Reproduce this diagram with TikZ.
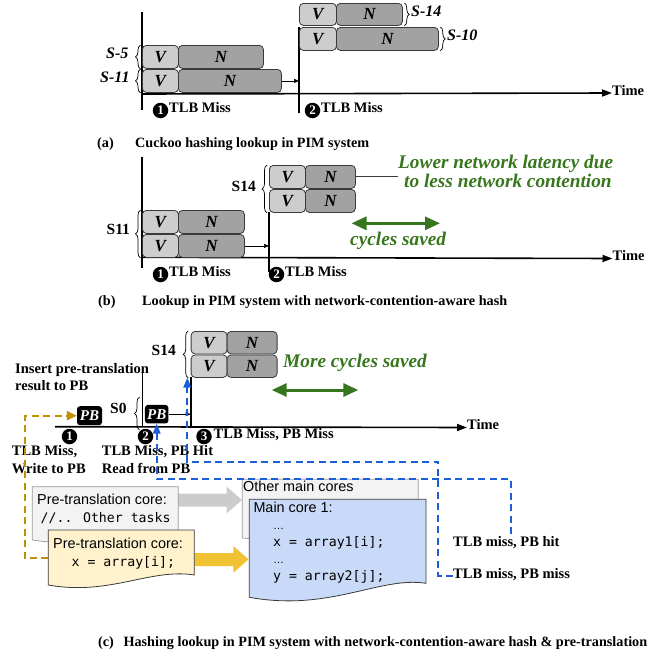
\documentclass[tikz,border=0pt]{standalone}
\usepackage{fontspec}
\setmainfont{Liberation Serif}
\newfontfamily\sansf{Liberation Sans}
\newfontfamily\monof{DejaVu Sans Mono}
\usetikzlibrary{arrows.meta,decorations.pathreplacing}
\definecolor{vfill}{HTML}{CDCDCD}
\definecolor{nfill}{HTML}{A2A2A2}
\definecolor{boxedge}{HTML}{3A3A3A}
\definecolor{grn}{HTML}{38761D}
\definecolor{bluedash}{HTML}{1A5FD6}
\definecolor{golddash}{HTML}{BF9000}
\definecolor{graybox}{HTML}{F3F3F3}
\definecolor{grayedge}{HTML}{999999}
\definecolor{grayarrow}{HTML}{CCCCCC}
\definecolor{yelbox}{HTML}{FFF2CC}
\definecolor{yelarrow}{HTML}{F1C232}
\definecolor{bluebox}{HTML}{C9DAF8}
\tikzset{
  cell/.style={draw=boxedge, line width=0.8pt, rounded corners=4pt, anchor=north west, inner sep=0pt,
    font=\fontsize{17}{17}\selectfont\bfseries\itshape},
  vcell/.style={cell, fill=vfill},
  ncell/.style={cell, fill=nfill},
  lbl/.style={font=\fontsize{14.5}{16}\selectfont\bfseries, inner sep=0pt, text height=0.68em, text depth=0.2em, anchor=west},
  captxt/.style={font=\fontsize{14.2}{16}\selectfont\bfseries, inner sep=0pt, text height=0.68em, text depth=0.2em, anchor=west},
  slbl/.style={font=\fontsize{16}{16}\selectfont\bfseries\itshape, inner sep=0pt, text height=0.68em, text depth=0.2em, anchor=west},
  slblr/.style={font=\fontsize{15.5}{16}\selectfont\bfseries, inner sep=0pt, text height=0.68em, text depth=0.2em, anchor=west},
  numc/.style={circle, fill=black, text=white, inner sep=0pt, minimum size=15.5pt,
    font=\fontsize{13}{13}\selectfont\bfseries},
  gtxt/.style={text=grn, font=\fontsize{19.3}{21}\selectfont\bfseries\itshape, inner sep=0pt, text height=0.68em, text depth=0.2em, anchor=west},
  stxt/.style={font=\fontsize{14.4}{16}\selectfont\sansf, inner sep=0pt, text height=0.7em, text depth=0.2em, anchor=west},
  mtxt/.style={font=\fontsize{13.2}{16}\selectfont\monof, inner sep=0pt, text height=0.7em, text depth=0.2em, anchor=west},
  pbbox/.style={fill=black, text=white, rounded corners=3pt, inner sep=0pt,
    font=\fontsize{15}{15}\selectfont\bfseries\itshape},
  brc/.style={decorate, decoration={brace, amplitude=5pt}, line width=0.7pt},
  taxis/.style={line width=1.6pt, -{Triangle[length=10pt,width=7pt]}},
  tline/.style={line width=1.6pt},
  smallarr/.style={line width=0.7pt, -{Triangle[length=5pt,width=4pt]}},
  garr/.style={draw=grn, line width=3pt, {Triangle[length=15pt,width=13pt]}-{Triangle[length=15pt,width=13pt]}},
  bdash/.style={draw=bluedash, line width=2pt, dash pattern=on 7pt off 4.5pt, -{Triangle[length=10pt,width=7.5pt]}},
  gdash/.style={draw=golddash, line width=2pt, dash pattern=on 7pt off 4.5pt, -{Triangle[length=10pt,width=9pt]}},
}
\begin{document}
\begin{tikzpicture}[x=1pt,y=-1pt]
\useasboundingbox (0,0) rectangle (667,656);

% ================= (a) =================
\coordinate (aL1t) at (142,12); \coordinate (aL1b) at (142,110);
\coordinate (aL2t) at (299,27); \coordinate (aL2b) at (299,113);
\draw[tline] (aL1t) -- (aL1b);
\draw[tline] (aL2t) -- (aL2b);
\coordinate (aT0) at (142,94);
\node[lbl] (aTime) at (612,93) {Time};
\draw[taxis] (aT0) -- (aTime.west);

\node[vcell,minimum width=36pt,minimum height=23pt] (a5v) at (142,45) {V};
\node[ncell,minimum width=85pt,minimum height=23pt] (a5n) at (178,45) {N};
\node[vcell,minimum width=36pt,minimum height=23pt] (a11v) at (142,69) {V};
\node[ncell,minimum width=103pt,minimum height=23pt] (a11n) at (178,69) {N};
\node[vcell,minimum width=37pt,minimum height=22pt] (a14v) at (299,3) {V};
\node[ncell,minimum width=66pt,minimum height=22pt] (a14n) at (336,3) {N};
\node[vcell,minimum width=37pt,minimum height=23pt] (a10v) at (299,27) {V};
\node[ncell,minimum width=102pt,minimum height=23pt] (a10n) at (336,27) {N};

\draw[smallarr] (a11n.east) -- (a11n.east -| aL2t);

\draw[brc] ([xshift=-1.5pt]a5v.south west) -- ([xshift=-1.5pt]a5v.north west);
\draw[brc] ([xshift=-1.5pt]a11v.south west) -- ([xshift=-1.5pt]a11v.north west);
\draw[brc] ([xshift=1.5pt]a14n.north east) -- ([xshift=1.5pt]a14n.south east);
\draw[brc] ([xshift=1.5pt]a10n.north east) -- ([xshift=1.5pt]a10n.south east);
\node[slbl] (aS5) at (106,56.5) {S-5};
\node[slbl] (aS11) at (100,80.5) {S-11};
\node[slbl] (aS14) at (411,14) {S-14};
\node[slbl] (aS10) at (447,38.5) {S-10};

\node[numc] (aN1) at (160.5,110.5) {1};
\node[lbl] (aM1) at (169,110.5) {TLB Miss};
\node[numc] (aN2) at (312.5,110.5) {2};
\node[lbl] (aM2) at (321,110.5) {TLB Miss};

\node[captxt] (aCapL) at (97,145) {(a)};
\node[captxt] (aCap) at (135,145) {Cuckoo hashing lookup in PIM system};

% ================= (b) =================
\coordinate (bL1t) at (142,157); \coordinate (bL1b) at (142,268);
\coordinate (bL2t) at (269,212); \coordinate (bL2b) at (269,272);
\draw[tline] (bL1t) -- (bL1b);
\draw[tline] (bL2t) -- (bL2b);
\coordinate (bT0) at (142,257.3);
\node[lbl] (bTime) at (612.5,258.5) {Time};
\draw[taxis] (bT0) -- (bTime.west);

\node[vcell,minimum width=36pt,minimum height=23pt] (b14v) at (269,165) {V};
\node[ncell,minimum width=50pt,minimum height=23pt] (b14n) at (305,165) {N};
\node[vcell,minimum width=36pt,minimum height=23pt] (b14v2) at (269,189) {V};
\node[ncell,minimum width=50pt,minimum height=23pt] (b14n2) at (305,189) {N};
\node[vcell,minimum width=36pt,minimum height=23pt] (b11v) at (142,210) {V};
\node[ncell,minimum width=66pt,minimum height=23pt] (b11n) at (178,210) {N};
\node[vcell,minimum width=36pt,minimum height=23pt] (b11v2) at (142,234) {V};
\node[ncell,minimum width=66pt,minimum height=23pt] (b11n2) at (178,234) {N};

\draw[smallarr] (b11n2.east) -- (b11n2.east -| bL2t);

\draw[brc] ([xshift=-2pt]b14v2.south west) -- ([xshift=-2pt]b14v.north west);
\draw[brc] ([xshift=-1.5pt]b11v2.south west) -- ([xshift=-1.5pt]b11v.north west);
\node[slblr] (bS14) at (231.5,189) {S14};
\node[slblr] (bS11) at (106.5,232.5) {S11};

\node[gtxt] (bLow1) at (398,166.5) {Lower network latency due};
\node[gtxt] (bLow2) at (404,185) {to less network contention};
\draw[line width=1pt, draw=boxedge] (b14n.east) -- (b14n.east -| bLow1.west);

\coordinate (bG0) at (351.5,223.3); \coordinate (bG1) at (440,223.3);
\draw[garr] (bG0) -- (bG1);
\node[gtxt] (bSaved) at (350,243) {cycles saved};

\node[numc] (bN1) at (160.5,274.5) {1};
\node[lbl] (bM1) at (169,274.5) {TLB Miss};
\node[numc] (bN2) at (276.5,274.5) {2};
\node[lbl] (bM2) at (285,274.5) {TLB Miss};

\node[captxt] (bCapL) at (98,303) {(b)};
\node[captxt] (bCap) at (142,303) {Lookup in PIM system with network-contention-aware hash};

% ================= (c) =================
\coordinate (hitEnd) at (511,534);
\coordinate (missTip) at (187.3,377.5);
\coordinate (yelLeft) at (48.3,558.3);

% other main cores box
\filldraw[fill=graybox, draw=grayedge, line width=0.7pt]
  (242.3,479.3) -- (418.3,479.3) -- (418.3,530) .. controls (380,526) and (320,545) .. (242.3,538) -- cycle;
\node[stxt] (otherT) at (243,488.5) {Other main cores};
% gray arrow
\fill[grayarrow] (178,493.5) -- (226.7,493.5) -- (226.7,486.7) -- (242,500) -- (226.7,513.3) -- (226.7,506.5) -- (178,506.5) -- cycle;
% gray pre-translation box
\filldraw[fill=graybox, draw=grayedge, line width=0.7pt]
  (32.3,486.7) -- (178.3,486.7) -- (178.3,532) .. controls (140,526) and (100,550) .. (32.3,540) -- cycle;
\node[stxt] (preT1) at (37,502) {Pre-translation core:};
\node[mtxt] (preT2) at (40.5,520) {//.. Other tasks};
% blue main core box
\filldraw[fill=bluebox, draw=boxedge, line width=0.8pt]
  (249.3,499.3) -- (426,499.3) -- (426,583.3) .. controls (380,576) and (330,612) .. (249.3,597.3) -- cycle;
\node[stxt] (mainT) at (253.3,509.5) {Main core 1:};
\node[stxt] (mainD1) at (273,527) {\fontsize{11}{12}\selectfont …};
\node[mtxt] (mainX) at (273,544.3) {x = array1[i];};
\node[stxt] (mainD2) at (273,560.5) {\fontsize{11}{12}\selectfont …};
\node[mtxt] (mainY) at (273,578.3) {y = array2[j];};
% yellow arrow
\fill[yelarrow] (194.3,553) -- (233.3,553) -- (233.3,546) -- (248.5,559.3) -- (233.3,572.7) -- (233.3,566) -- (194.3,566) -- cycle;
% yellow box
\filldraw[fill=yelbox, draw=boxedge, line width=0.8pt]
  (48.3,530) -- (194.3,530) -- (194.3,575) .. controls (150,568) and (110,596) .. (48.3,585) -- cycle;
\node[stxt] (yelT1) at (53,545.5) {Pre-translation core:};
\node[mtxt] (yelT2) at (71.5,564) {x = array[i];};

% timeline c
\coordinate (cLIt) at (142.3,373); \coordinate (cLIb) at (142.3,426.7);
\coordinate (cL3t) at (190.7,377); \coordinate (cL3b) at (190.7,426.7);
\draw[tline] (cLIt) -- (cLIb);
\draw[tline] (cL3t) -- (cL3b);
\coordinate (cT0) at (55,426.7);
\node[lbl] (cTime) at (467,427.5) {Time};
\draw[taxis] (cT0) -- (cTime.west);

\node[vcell,minimum width=36pt,minimum height=22.5pt] (c14v) at (190.7,331) {V};
\node[ncell,minimum width=50pt,minimum height=22.5pt] (c14n) at (226.7,331) {N};
\node[vcell,minimum width=36pt,minimum height=22.5pt] (c14v2) at (190.7,354.5) {V};
\node[ncell,minimum width=50pt,minimum height=22.5pt] (c14n2) at (226.7,354.5) {N};
\draw[brc] ([xshift=-2.5pt]c14v2.south west) -- ([xshift=-2.5pt]c14v.north west);
\node[slblr] (cS14) at (151.5,353.5) {S14};

\node[pbbox, minimum width=25pt, minimum height=19pt] (pb1) at (89.5,415.7) {PB};
\node[pbbox, minimum width=23.5pt, minimum height=18.5pt] (pb2) at (156.7,414.2) {PB};
\draw[smallarr] (pb2.east) -- (pb2.east -| cL3t);
\draw[brc] (139.5,430) -- (139.5,397);
\node[slblr] (cS0) at (110,411) {S0};

\node[lbl] (ins1) at (15,371) {Insert pre-translation};
\node[lbl] (ins2) at (15,388.5) {result to PB};

\node[gtxt] (cMore) at (283,365.5) {More cycles saved};
\coordinate (cG0) at (271.7,390); \coordinate (cG1) at (358.3,390);
\draw[garr] (cG0) -- (cG1);

\node[numc] (cN1) at (69.5,436.5) {1};
\node[numc] (cN2) at (145.5,436.5) {2};
\node[numc] (cN3) at (204,436.5) {3};
\node[lbl] (cM3) at (213.5,436.5) {TLB Miss, PB Miss};

\node[lbl] (cW1) at (11.7,453) {TLB Miss,};
\node[lbl] (cW2) at (11.7,471) {Write to PB};
\node[lbl] (cR1) at (101.7,453) {TLB Miss, PB Hit};
\node[lbl] (cR2) at (101.7,471) {Read from PB};

\node[lbl] (hitL) at (453,544.5) {TLB miss, PB hit};
\node[lbl] (missL) at (453,576) {TLB miss, PB miss};

% dashed paths
\draw[gdash] (yelLeft) -- (25,558.3) |- (pb1.west);
\draw[bdash] (hitEnd) -- (511,479.3) -| (pb2.south);
\draw[bdash] (missL.west) -- (438.3,576) -- (438.3,461.7) -| (missTip);

\node[captxt] (cCapL) at (98,644.5) {(c)};
\node[captxt] (cCap) at (123.3,644.5) {Hashing lookup in PIM system with network-contention-aware hash \& pre-translation};
\end{tikzpicture}
\end{document}
